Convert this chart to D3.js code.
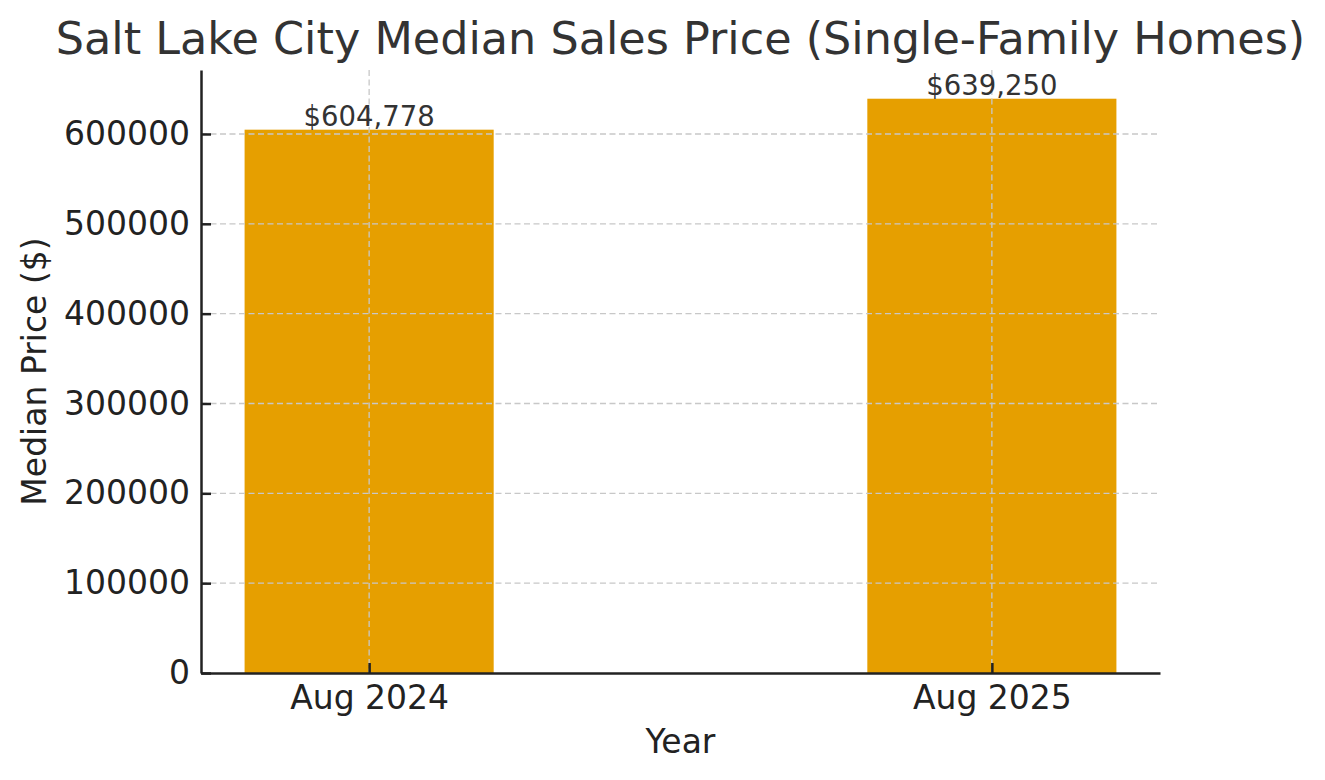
<!DOCTYPE html>
<html>
<head>
<meta charset="utf-8">
<script src="https://cdn.jsdelivr.net/npm/d3@7"></script>
<style>
  body { margin: 0; background: #fff; }
  text { font-family: "DejaVu Sans", sans-serif; }
</style>
</head>
<body>
<svg id="chart" width="1325" height="780"></svg>
<script>
  // data
  var categories = ['Aug 2024', 'Aug 2025'];
  var prices = [604778, 639250];
  var yTicks = [0, 100000, 200000, 300000, 400000, 500000, 600000];

  (function() {
    var plotL = 201, plotR = 1160, plotT = 70, plotB = 673;

    var svg = d3.select('#chart');

    // bar positions like matplotlib: index 0..n-1, width 0.4, 5% margins
    var barW = 0.4;
    var lo = -barW / 2, hi = categories.length - 1 + barW / 2;
    var pad = (hi - lo) * 0.05;
    var x = d3.scaleLinear().domain([lo - pad, hi + pad]).range([plotL, plotR]);
    var y = d3.scaleLinear().domain([0, d3.max(prices) * 1.05]).range([plotB, plotT]);

    // bars
    svg.append('g').selectAll('rect')
      .data(prices)
      .enter()
      .append('rect')
      .attr('x', function(d, i) { return x(i - barW / 2); })
      .attr('width', function(d, i) { return x(i + barW / 2) - x(i - barW / 2); })
      .attr('y', function(d) { return y(d); })
      .attr('height', function(d) { return plotB - y(d); })
      .attr('fill', '#E69F00');

    // grid (drawn over bars)
    var grid = svg.append('g')
      .attr('stroke', '#c8c8c8')
      .attr('stroke-width', 1.3)
      .attr('stroke-dasharray', '6,3.5');
    grid.selectAll('line.h')
      .data(yTicks.slice(1))
      .enter()
      .append('line')
      .attr('x1', plotL).attr('x2', plotR)
      .attr('y1', function(d) { return y(d); })
      .attr('y2', function(d) { return y(d); });
    grid.selectAll('line.v')
      .data(categories)
      .enter()
      .append('line')
      .attr('y1', plotT).attr('y2', plotB)
      .attr('x1', function(d, i) { return x(i); })
      .attr('x2', function(d, i) { return x(i); });

    // value labels
    svg.append('g').selectAll('text')
      .data(prices)
      .enter()
      .append('text')
      .attr('x', function(d, i) { return x(i); })
      .attr('y', function(d) { return y(d) - 4; })
      .attr('text-anchor', 'middle')
      .attr('font-size', 27.5)
      .attr('fill', '#333')
      .text(function(d) { return '$' + d3.format(',')(d); });

    // y axis
    var yAxis = d3.axisLeft(y).tickValues(yTicks).tickFormat(d3.format('d'))
      .tickSizeInner(-10).tickSizeOuter(0).tickPadding(11);
    var gy = svg.append('g').attr('transform', 'translate(' + plotL + ',0)').call(yAxis);
    gy.select('.domain').attr('stroke', '#222').attr('stroke-width', 2.5);
    gy.selectAll('.tick line').attr('stroke', '#222').attr('stroke-width', 2.5);
    gy.selectAll('.tick text').attr('font-size', 33).attr('fill', '#222')
      .attr('font-family', '"DejaVu Sans", sans-serif');

    // x axis
    var xAxis = d3.axisBottom(x).tickValues(d3.range(categories.length))
      .tickFormat(function(i) { return categories[i]; })
      .tickSizeInner(-10).tickSizeOuter(0).tickPadding(13);
    var gx = svg.append('g').attr('transform', 'translate(0,' + plotB + ')').call(xAxis);
    gx.select('.domain').attr('stroke', '#222').attr('stroke-width', 2.5);
    gx.selectAll('.tick line').attr('stroke', '#222').attr('stroke-width', 2.5);
    gx.selectAll('.tick text').attr('font-size', 33).attr('fill', '#222')
      .attr('font-family', '"DejaVu Sans", sans-serif');

    // titles
    svg.append('text')
      .attr('x', (plotL + plotR) / 2).attr('y', 54)
      .attr('text-anchor', 'middle')
      .attr('font-size', 44.5)
      .attr('fill', '#333')
      .text('Salt Lake City Median Sales Price (Single-Family Homes)');

    svg.append('text')
      .attr('x', (plotL + plotR) / 2).attr('y', 753)
      .attr('text-anchor', 'middle')
      .attr('font-size', 33)
      .attr('fill', '#222')
      .text('Year');

    svg.append('text')
      .attr('transform', 'translate(46,' + ((plotT + plotB) / 2) + ') rotate(-90)')
      .attr('text-anchor', 'middle')
      .attr('font-size', 33)
      .attr('fill', '#222')
      .text('Median Price ($)');
  })();
</script>
</body>
</html>
